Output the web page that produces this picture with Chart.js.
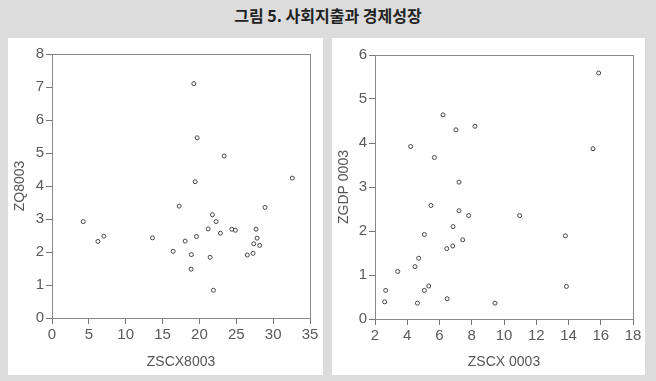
<!DOCTYPE html>
<html>
<head>
<meta charset="utf-8">
<script src="https://cdn.jsdelivr.net/npm/chart.js@4/dist/chart.umd.min.js"></script>
<style>
  body { margin: 0; width: 656px; height: 381px; background: #dcdcdc; position: relative; overflow: hidden; }
  #title { position: absolute; left: 0; top: 3px; width: 656px; height: 22px; line-height: 22px; text-align: center;
           font: bold 16px 'Noto Sans CJK KR', sans-serif; color: #222; }
  .panel { position: absolute; top: 38px; height: 337px; background: #fff; }
  #p1 { left: 8px; width: 315px; }
  #p2 { left: 332px; width: 313px; }
</style>
</head>
<body>
<div id="title">그림 5. 사회지출과 경제성장</div>
<div class="panel" id="p1"><canvas id="c1" width="315" height="337"></canvas></div>
<div class="panel" id="p2"><canvas id="c2" width="313" height="337"></canvas></div>
<script>
// left: ZSCX8003 vs ZQ8003
const zscx8003 = [19.24, 19.69, 23.35, 19.42, 32.6, 4.24, 6.23, 7.04, 13.63, 17.25, 16.44, 18.06, 19.6, 18.9, 18.87,
  21.18, 21.76, 22.26, 21.45, 21.9, 22.85, 24.39, 24.88, 26.5, 27.28, 27.37, 27.68, 27.82, 28.18, 28.9];
const zq8003 = [7.10, 5.46, 4.91, 4.13, 4.24, 2.92, 2.32, 2.48, 2.43, 3.39, 2.02, 2.33, 2.47, 1.92, 1.48,
  2.70, 3.13, 2.92, 1.84, 0.84, 2.57, 2.69, 2.66, 1.91, 1.96, 2.25, 2.69, 2.42, 2.20, 3.35];

// right: ZSCX 0003 vs ZGDP 0003
const zscx0003 = [15.87, 6.22, 7.02, 8.20, 4.21, 15.52, 5.68, 7.21, 5.47, 7.21, 7.81, 10.97, 6.84, 5.06, 7.44,
  13.81, 6.82, 6.45, 4.71, 4.48, 3.41, 2.66, 2.60, 5.33, 5.06, 4.63, 6.47, 9.44, 13.87];
const zgdp0003 = [5.59, 4.64, 4.30, 4.38, 3.92, 3.87, 3.67, 3.11, 2.58, 2.46, 2.35, 2.35, 2.10, 1.92, 1.80,
  1.89, 1.66, 1.60, 1.38, 1.19, 1.08, 0.65, 0.39, 0.75, 0.65, 0.36, 0.46, 0.36, 0.74];

Chart.defaults.font.family = "'Liberation Sans', Arial, sans-serif";
Chart.defaults.color = '#5a5a5a';

const frame = {
  id: 'frame',
  afterDraw(chart) {
    const a = chart.chartArea, ctx = chart.ctx;
    ctx.save();
    ctx.strokeStyle = '#888';
    ctx.lineWidth = 1;
    ctx.strokeRect(Math.round(a.left) + 0.5, Math.round(a.top) + 0.5, Math.round(a.right - a.left), Math.round(a.bottom - a.top));
    ctx.restore();
  }
};

function makeChart(id, xs, ys, xmin, xmax, xstep, ymax, xTitle, yTitle, pad) {
  const pts = xs.map((x, i) => ({ x: x, y: ys[i] }));
  new Chart(document.getElementById(id), {
    type: 'scatter',
    data: { datasets: [{ data: pts, pointRadius: 2, pointBorderWidth: 1, pointBorderColor: '#444',
      pointBackgroundColor: 'rgba(0,0,0,0)' }] },
    options: {
      responsive: false,
      animation: false,
      layout: { padding: pad },
      plugins: { legend: { display: false }, tooltip: { enabled: false } },
      scales: {
        x: {
          min: xmin, max: xmax,
          ticks: { stepSize: xstep, padding: 2, font: { size: 15 } },
          grid: { drawOnChartArea: false, tickLength: 6, color: '#777' },
          border: { color: '#777' },
          title: { display: true, text: xTitle, font: { size: 14 }, color: '#555' },
          afterFit(s) { s.height = pad.bottomSpace; }
        },
        y: {
          min: 0, max: ymax,
          ticks: { stepSize: 1, padding: 2, font: { size: 15 } },
          grid: { drawOnChartArea: false, tickLength: 6, color: '#777' },
          border: { color: '#777' },
          title: { display: true, text: yTitle, font: { size: 14 }, color: '#555' },
          afterFit(s) { s.width = pad.leftSpace; }
        }
      }
    },
    plugins: [frame]
  });
}

makeChart('c1', zscx8003, zq8003, 0, 35, 5, 8, 'ZSCX8003', 'ZQ8003',
  { left: 0, top: 16, right: 13, bottom: 0, leftSpace: 44, bottomSpace: 57 });
makeChart('c2', zscx0003, zgdp0003, 2, 18, 2, 6, 'ZSCX 0003', 'ZGDP 0003',
  { left: 0, top: 17, right: 12, bottom: 0, leftSpace: 43, bottomSpace: 56 });
</script>
</body>
</html>
